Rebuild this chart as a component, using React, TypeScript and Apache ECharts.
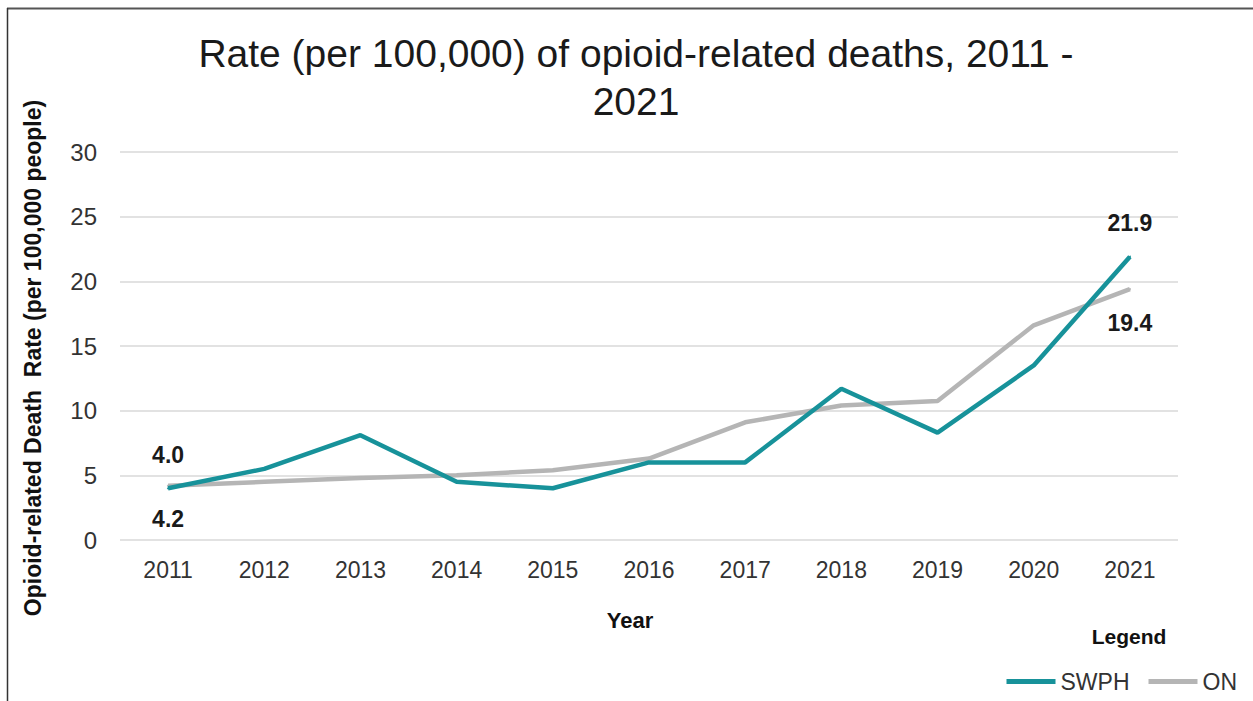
import React, { useEffect, useRef } from "react";
import * as echarts from "echarts";

const years = ["2011", "2012", "2013", "2014", "2015", "2016", "2017", "2018", "2019", "2020", "2021"];
const swph = [4.0, 5.5, 8.1, 4.5, 4.0, 6.0, 6.0, 11.7, 8.3, 13.5, 21.9];
const on = [4.2, 4.5, 4.8, 5.0, 5.4, 6.3, 9.1, 10.4, 10.75, 16.6, 19.4];
const yTicks = { min: 0, max: 30, interval: 5 };

const TEAL = "#17929a";
const GRAY = "#b5b5b5";
const FONT = "Liberation Sans, Arial, sans-serif";

function withEndLabels(values: number[], pos: "top" | "bottom") {
  return values.map((v, i) => {
    const isEnd = i === 0 || i === values.length - 1;
    return {
      value: v,
      label: {
        show: isEnd,
        position: pos,
        distance: 21,
        formatter: (p: any) => Number(p.value).toFixed(1),
        fontSize: 23,
        fontWeight: "bold",
        color: "#1a1a1a",
        fontFamily: FONT,
      },
    };
  });
}

export default function App() {
  const ref = useRef<HTMLDivElement>(null);
  useEffect(() => {
    document.body.style.margin = "0";
    const chart = echarts.init(ref.current!, undefined, { renderer: "svg" });
    chart.setOption({
      animation: false,
      backgroundColor: "#ffffff",
      textStyle: { fontFamily: FONT },
      title: {
        text: "Rate (per 100,000) of opioid-related deaths, 2011 -\n2021",
        left: 631,
        top: 24,
        textAlign: "center",
        textStyle: { fontSize: 39, lineHeight: 48, fontWeight: "normal", color: "#1a1a1a", fontFamily: FONT },
      },
      grid: { left: 120, right: 75, top: 152, bottom: 161, containLabel: false },
      xAxis: {
        type: "category",
        data: years,
        boundaryGap: true,
        axisLine: { show: false },
        axisTick: { show: false },
        axisLabel: { fontSize: 23, color: "#333333", margin: 18, fontFamily: FONT },
      },
      yAxis: {
        type: "value",
        min: yTicks.min,
        max: yTicks.max,
        interval: yTicks.interval,
        axisLine: { show: false },
        axisTick: { show: false },
        axisLabel: { fontSize: 24, color: "#333333", margin: 23, fontFamily: FONT },
        splitLine: { lineStyle: { color: "#d9d9d9", width: 1.5 } },
      },
      legend: {
        right: 11,
        top: 665,
        itemWidth: 49,
        itemHeight: 5,
        itemGap: 19,
        icon: "rect",
        textStyle: { fontSize: 23, color: "#333333", fontFamily: FONT },
        data: ["SWPH", "ON"],
      },
      series: [
        {
          name: "ON",
          type: "line",
          data: withEndLabels(on, "bottom"),
          symbol: "circle",
          symbolSize: 2,
          color: GRAY,
          lineStyle: { width: 4.5, color: GRAY },
          itemStyle: { color: GRAY },
          z: 2,
        },
        {
          name: "SWPH",
          type: "line",
          data: withEndLabels(swph, "top"),
          symbol: "circle",
          symbolSize: 2,
          color: TEAL,
          lineStyle: { width: 4.5, color: TEAL },
          itemStyle: { color: TEAL },
          z: 3,
        },
      ],
      graphic: [
        { type: "line", shape: { x1: 7, y1: 8.5, x2: 1253, y2: 8.5 }, style: { stroke: "#555555", lineWidth: 2 } },
        { type: "line", shape: { x1: 7.5, y1: 8, x2: 7.5, y2: 701 }, style: { stroke: "#333333", lineWidth: 1.5 } },
        {
          type: "text",
          x: 33,
          y: 358,
          rotation: Math.PI / 2,
          style: {
            text: "Opioid-related Death  Rate (per 100,000 people)",
            fontSize: 23,
            fontWeight: "bold",
            fill: "#111111",
            fontFamily: FONT,
            align: "center",
            verticalAlign: "middle",
          },
        },
        {
          type: "text",
          x: 630,
          y: 620,
          style: { text: "Year", fontSize: 22, fontWeight: "bold", fill: "#111111", fontFamily: FONT, align: "center", verticalAlign: "middle" },
        },
        {
          type: "text",
          x: 1129,
          y: 636,
          style: { text: "Legend", fontSize: 21, fontWeight: "bold", fill: "#111111", fontFamily: FONT, align: "center", verticalAlign: "middle" },
        },
      ],
    });
    return () => chart.dispose();
  }, []);
  return <div ref={ref} style={{ width: 1253, height: 701 }} />;
}
